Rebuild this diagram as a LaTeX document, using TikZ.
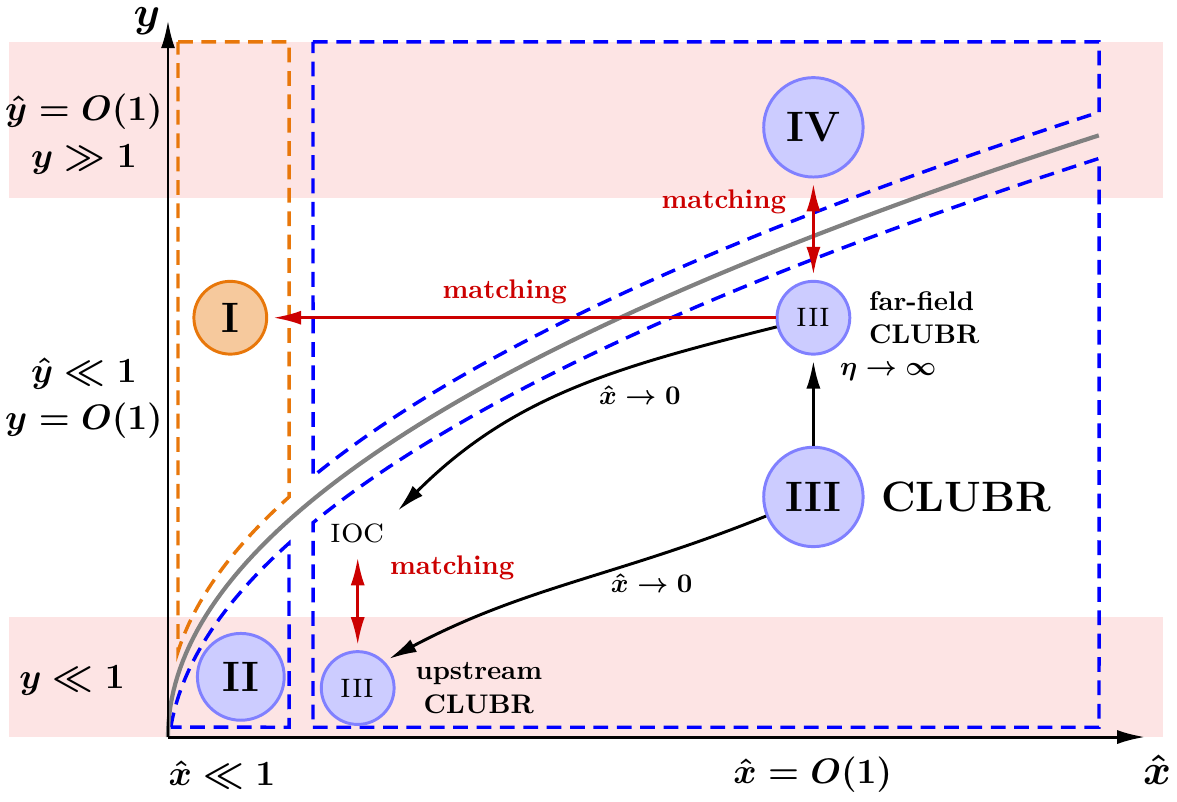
\documentclass[11pt,tikz,border=0pt]{standalone}
\usepackage{amsmath,amssymb}
\usepackage{tikz}
\usetikzlibrary{arrows.meta,positioning,calc}
\definecolor{bandred}{RGB}{253,228,228}
\definecolor{zoneblue}{RGB}{0,0,255}
\definecolor{zoneorange}{RGB}{232,119,10}
\definecolor{matchred}{RGB}{204,0,0}
\definecolor{layerfill}{RGB}{204,204,255}
\definecolor{layerdraw}{RGB}{128,128,255}

\begin{document}
\begin{tikzpicture}[
  axis/.style={line width=1.2pt,-{Latex[length=4mm,width=2mm]}},
  zone/.style={line width=1.4pt,dash pattern=on 6pt off 3.5pt},
  layer/.style={
    circle,
    draw=layerdraw,
    fill=layerfill,
    line width=1.2pt,
    inner sep=0pt
  },
  biglayer/.style={layer,minimum size=1.42cm,font=\LARGE\bfseries},
  sublayer/.style={layer,minimum size=1.04cm,font=\Large\scshape},
  note/.style={font=\normalsize\bfseries,align=left},
  est/.style={font=\Large\boldmath,align=center},
  lim/.style={font=\normalsize\boldmath},
  matchlbl/.style={text=matchred,font=\normalsize\bfseries},
  matchto/.style={
    matchred,
    line width=1.2pt,
    -{Latex[length=4mm,width=2mm]},
    shorten >=2pt
  },
  matchboth/.style={
    matchto,
    {Latex[length=4mm,width=2mm]}-{Latex[length=4mm,width=2mm]},
    shorten <=2pt
  },
  limto/.style={
    line width=1.2pt,
    -{Latex[length=4mm,width=2mm]},
    shorten >=2pt
  }
]
\useasboundingbox (-2.4,-0.914) rectangle (14.414,10.529);

\fill[bandred] (-2.27,7.7) rectangle (14.21,9.93);
\fill[bandred] (-2.27,0) rectangle (14.21,1.714);

\draw[zone,zoneorange] (0.143,9.93) -- (1.73,9.93)
  -- plot[variable=\t,domain=1.315:0.378,samples=40] ({\t*\t},{2.357*\t+0.33})
  -- cycle;
\draw[zone,zoneblue] (2.071,9.93) -- (13.3,9.93)
  -- plot[variable=\t,domain=3.647:1.439,samples=60] ({\t*\t},{2.357*\t+0.33})
  -- cycle;
\draw[zone,zoneblue] (2.071,0.14) -- (13.3,0.14)
  -- plot[variable=\t,domain=3.647:1.439,samples=60] ({\t*\t},{2.357*\t-0.33})
  -- cycle;
\draw[zone,zoneblue]
  plot[variable=\t,domain=0.2:1.315,samples=40] ({\t*\t},{2.357*\t-0.33})
  -- (1.73,0.14) -- cycle;

\draw[gray,line width=1.7pt]
  plot[variable=\t,domain=0:3.647,samples=80] ({\t*\t},{2.357*\t});

\coordinate (O) at (0,0);
\coordinate (xend) at (13.96,0);
\coordinate (yend) at (0,10.24);
\draw[axis] (O) -- (xend);
\draw[axis] (O) -- (yend);
\node[font=\LARGE\boldmath] (xlab) at (14.13,-0.47) {$\hat{x}$};
\node[font=\LARGE\boldmath,inner sep=1pt] (ylab) at (-0.3,10.22) {$y$};

\node[est] (outer) at (-1.2,8.61) {$\hat{y}=O(1)$\\[1pt]$y\gg 1$};
\node[est] (main) at (-1.2,4.84) {$\hat{y}\ll 1$\\[1pt]$y=O(1)$};
\node[est] (wall) at (-1.37,0.81) {$y\ll 1$};
\node[est] (lead) at (0.77,-0.54) {$\hat{x}\ll 1$};
\node[est] (far) at (9.21,-0.54) {$\hat{x}=O(1)$};

\node[biglayer] (IV) at (9.22,8.71) {IV};
\node[sublayer] (IIIf) at (9.22,5.99) {iii};
\node[biglayer] (IIIc) at (9.22,3.43) {III};
\node[biglayer,minimum size=1.24cm] (II) at (1.04,0.86) {II};
\node[sublayer] (IIIu) at (2.71,0.70) {iii};
\node[layer,draw=zoneorange,fill=zoneorange!40,minimum size=1.04cm,
  font=\LARGE\bfseries] (I) at (0.89,5.99) {I};

\node[note,right=0.12cm of IIIf] (farlbl) {far-field\\CLUBR};
\node[font=\LARGE\bfseries,right=0.1cm of IIIc] (clubr) {CLUBR};
\node[note,align=center,right=0.15cm of IIIu] (uplbl) {upstream\\CLUBR};
\node[font=\Large\scshape] (IOC) at (2.71,2.91) {ioc};

\draw[matchto] (IIIf) -- (I);
\draw[matchboth] (IV) -- (IIIf);
\draw[matchboth] (IOC) -- (IIIu);
\node[matchlbl] at (4.81,6.36) {matching};
\node[matchlbl] at (7.94,7.64) {matching};
\node[matchlbl] at (4.06,2.41) {matching};

\draw[limto] (IIIc) -- (IIIf);
\draw[limto] (IIIf.194) to[out=194,in=45] (IOC.north east);
\draw[limto] (IIIc.202) to[out=202,in=28] (IIIu.north east);
\node[lim] at (10.29,5.21) {$\eta\to\infty$};
\node[lim] at (6.74,4.89) {$\hat{x}\to 0$};
\node[lim] at (6.91,2.2) {$\hat{x}\to 0$};
\end{tikzpicture}
\end{document}
